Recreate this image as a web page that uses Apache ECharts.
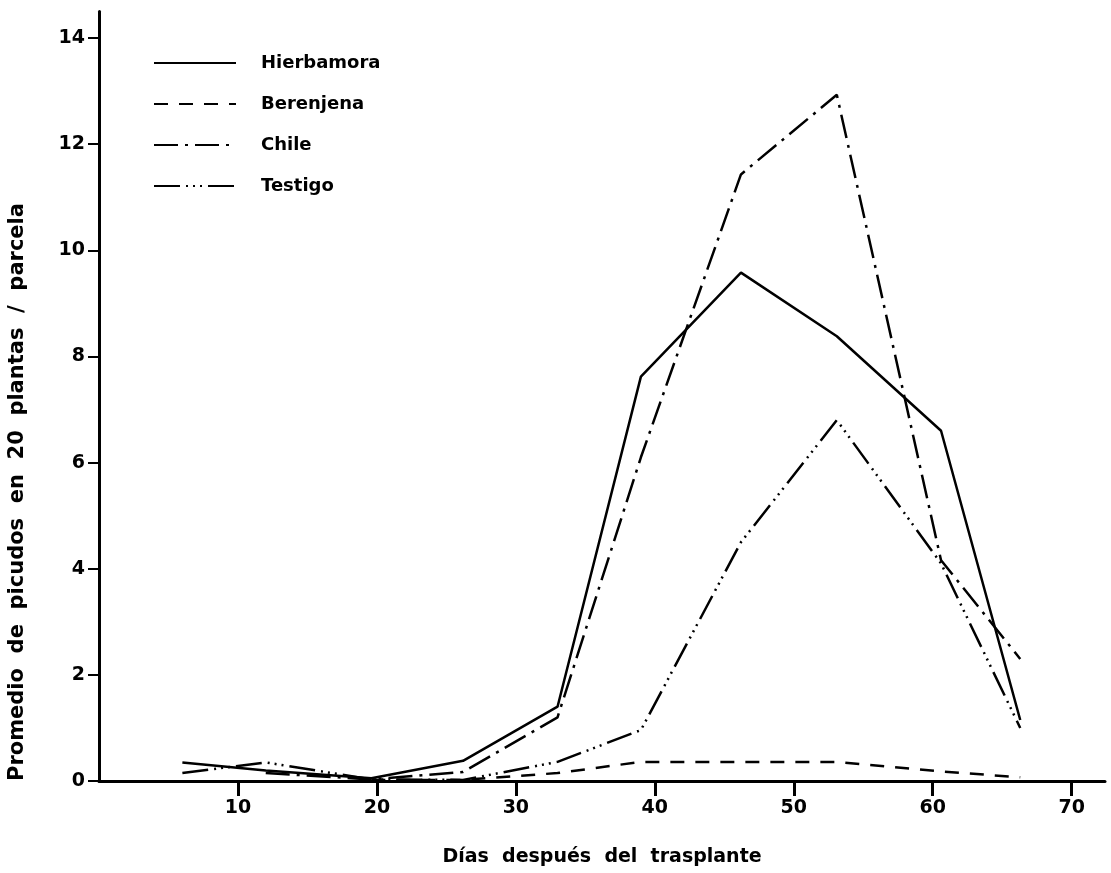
<!DOCTYPE html>
<html>
<head>
<meta charset="utf-8">
<script src="https://cdn.jsdelivr.net/npm/echarts@6/dist/echarts.min.js"></script>
<style>
  html, body { margin: 0; padding: 0; background: #fff; }
  #main { width: 1111px; height: 873px; }
</style>
</head>
<body>
<div id="main"></div>
<script>
// días después del trasplante
var dias = [6, 12, 19.6, 26.2, 33, 39, 46.2, 53.1, 60.6, 66.3];
var hierbamora = [0.35, 0.2, 0.05, 0.38, 1.4, 7.62, 9.58, 8.38, 6.6, 1.15];
var berenjena = [null, null, 0.02, 0.02, 0.15, 0.36, 0.36, 0.36, 0.18, 0.07];
var chile = [null, 0.15, 0.03, 0.17, 1.2, 6.1, 11.43, 12.93, 4.16, 2.3];
var testigo = [0.15, 0.35, 0.03, 0.02, 0.36, 0.96, 4.5, 6.8, 4.1, 1.0];

var nombres = ['Hierbamora', 'Berenjena', 'Chile', 'Testigo'];
var tipos = ['solid', [14, 11], [24, 7, 3, 7], [26, 6, 2, 5, 2, 5, 2, 6]];
var valores = [hierbamora, berenjena, chile, testigo];

var fuente = 'DejaVu Sans';

function pares(vals) {
  return dias.map(function (d, i) { return [d, vals[i]]; });
}

var myChart = echarts.init(document.getElementById('main'));

var series = nombres.map(function (n, k) {
  return {
    name: n,
    type: 'line',
    data: pares(valores[k]),
    showSymbol: false,
    symbol: 'none',
    lineStyle: { color: '#000', width: 2.5, type: tipos[k] },
    itemStyle: { color: '#000' }
  };
});

var option = {
  backgroundColor: '#fff',
  animation: false,
  grid: { left: 99, right: 6, top: 11.5, bottom: 92 },
  legend: {
    orient: 'vertical',
    left: 148,
    top: 49,
    itemWidth: 82,
    itemHeight: 16,
    itemGap: 23,
    data: nombres,
    itemStyle: { opacity: 0 },
    textStyle: {
      fontFamily: fuente, fontWeight: 'bold', fontSize: 18, color: '#000',
      padding: [0, 0, 0, 20]
    }
  },
  graphic: [{
    type: 'text',
    x: 18,
    y: 492,
    rotation: Math.PI / 2,
    style: {
      text: 'Promedio  de  picudos  en  20  plantas  /  parcela',
      fontFamily: fuente, fontWeight: 'bold', fontSize: 21, fill: '#000',
      align: 'center', verticalAlign: 'middle'
    }
  }],
  xAxis: {
    type: 'value',
    min: 0,
    max: 72.4,
    interval: 10,
    name: 'Días  después  del  trasplante',
    nameLocation: 'middle',
    nameGap: 67,
    nameTextStyle: { fontFamily: fuente, fontWeight: 'bold', fontSize: 19, color: '#000' },
    axisLine: { lineStyle: { color: '#000', width: 3 } },
    axisTick: { length: 15, lineStyle: { color: '#000', width: 3 } },
    axisLabel: {
      margin: 18, showMinLabel: false, showMaxLabel: false,
      fontFamily: fuente, fontWeight: 'bold', fontSize: 19, color: '#000'
    },
    splitLine: { show: false }
  },
  yAxis: {
    type: 'value',
    min: 0,
    max: 14.5,
    interval: 2,
    axisLine: { show: true, lineStyle: { color: '#000', width: 3 } },
    axisTick: { show: true, length: 11, lineStyle: { color: '#000', width: 2 } },
    axisLabel: {
      margin: 14, showMaxLabel: false,
      fontFamily: fuente, fontWeight: 'bold', fontSize: 19, color: '#000'
    },
    splitLine: { show: false }
  },
  series: series
};

myChart.setOption(option);
</script>
</body>
</html>
